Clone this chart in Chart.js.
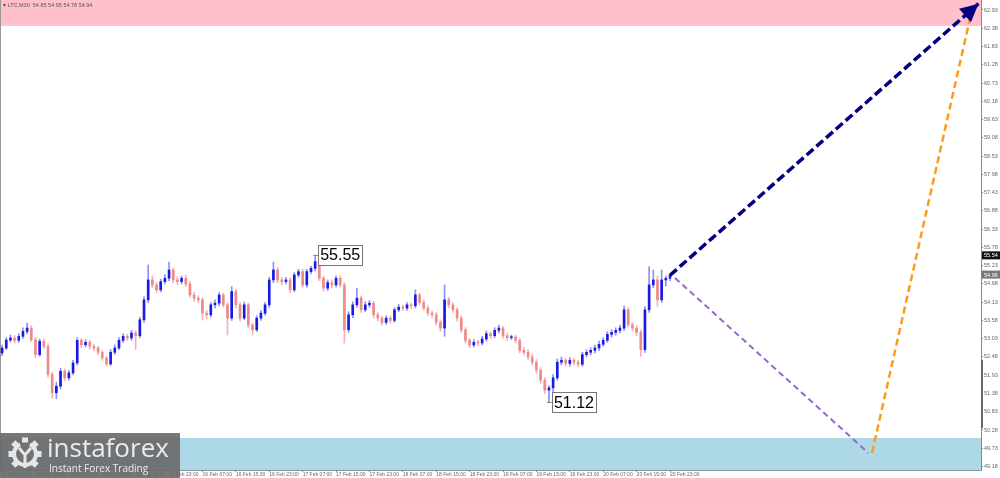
<!DOCTYPE html>
<html>
<head>
<meta charset="utf-8">
<script src="https://cdn.jsdelivr.net/npm/chart.js@4.4.1/dist/chart.umd.min.js"></script>
<style>
  html, body { margin: 0; padding: 0; background: #fff; }
  canvas { display: block; }
</style>
</head>
<body>
<canvas id="chart" width="1000" height="478"></canvas>
<script>
// hourly bars, index 0 = 14 Feb 07:00
const opens = [
  52.60, 52.75, 52.99, 53.05, 52.98, 53.10, 53.25, 53.35, 53.00, 52.55,
  52.95, 52.80, 51.95, 51.40, 51.60, 52.05, 51.85, 52.00, 52.30, 52.98,
  52.85, 52.92, 52.80, 52.75, 52.62, 52.45, 52.27, 52.62, 52.75, 52.98,
  53.10, 53.05, 53.20, 53.12, 53.60, 54.20, 54.80, 54.65, 54.50, 54.75,
  54.85, 55.10, 54.80, 54.75, 54.85, 54.68, 54.35, 54.25, 54.20, 53.80,
  53.75, 54.05, 54.10, 54.35, 54.05, 53.65, 54.45, 54.05, 53.65, 54.05,
  53.44, 53.30, 53.65, 53.80, 54.05, 54.80, 55.10, 54.80, 54.75, 54.80,
  54.50, 54.95, 55.05, 54.65, 55.05, 55.15, 55.35, 54.85, 54.55, 54.72,
  54.65, 54.85, 54.65, 53.30, 53.75, 54.05, 54.25, 53.90, 54.05, 54.10,
  53.75, 53.65, 53.52, 53.65, 53.58, 53.90, 53.98, 53.95, 54.05, 54.02,
  54.35, 54.12, 53.95, 53.80, 53.75, 53.52, 53.35, 54.20, 54.05, 53.90,
  53.65, 53.30, 52.98, 52.84, 52.92, 52.90, 53.02, 53.18, 53.12, 53.28,
  53.35, 53.12, 53.06, 53.08, 52.98, 52.68, 52.62, 52.48, 52.32, 52.08,
  51.78, 51.48, 51.55, 51.85, 52.32, 52.38, 52.28, 52.38, 52.32, 52.26,
  52.55, 52.62, 52.68, 52.75, 52.86, 52.98, 53.16, 53.22, 53.28, 53.35,
  53.90, 53.45, 53.35, 53.22, 52.70, 53.90, 54.65, 54.80, 54.20, 54.80,
  54.85
];
const highs = [
  52.84, 53.06, 53.14, 53.12, 53.18, 53.36, 53.50, 53.42, 53.08, 53.02,
  53.02, 52.88, 52.02, 51.72, 52.14, 52.12, 52.08, 52.38, 53.06, 53.04,
  53.00, 52.98, 52.86, 52.80, 52.68, 52.50, 52.70, 52.84, 53.06, 53.18,
  53.16, 53.28, 53.26, 53.68, 54.30, 55.25, 54.92, 54.72, 54.82, 54.95,
  55.34, 55.16, 54.90, 54.92, 54.94, 54.74, 54.42, 54.32, 54.26, 53.88,
  54.12, 54.20, 54.42, 54.40, 54.12, 54.60, 54.52, 54.12, 54.14, 54.10,
  53.50, 53.72, 53.88, 54.12, 54.88, 55.34, 55.18, 54.88, 54.88, 54.86,
  55.02, 55.12, 55.12, 55.12, 55.22, 55.55, 55.42, 54.92, 54.80, 54.80,
  54.92, 54.92, 54.72, 53.84, 54.14, 54.55, 54.32, 54.14, 54.18, 54.16,
  53.82, 53.70, 53.72, 53.70, 53.96, 54.06, 54.04, 54.12, 54.10, 54.50,
  54.40, 54.20, 54.02, 53.86, 53.82, 53.60, 54.65, 54.28, 54.12, 53.96,
  53.72, 53.36, 53.04, 53.00, 52.98, 53.10, 53.26, 53.24, 53.36, 53.44,
  53.40, 53.20, 53.14, 53.14, 53.04, 52.76, 52.70, 52.56, 52.40, 52.16,
  51.86, 51.62, 51.96, 52.42, 52.48, 52.44, 52.46, 52.44, 52.38, 52.62,
  52.70, 52.76, 52.84, 52.96, 53.06, 53.24, 53.30, 53.36, 53.44, 54.02,
  53.96, 53.52, 53.42, 53.30, 54.00, 55.20, 55.10, 54.92, 55.10, 54.92,
  54.95
];
const lows = [
  52.52, 52.70, 52.93, 52.90, 52.92, 53.04, 53.18, 52.94, 52.46, 52.50,
  52.72, 51.88, 51.25, 51.22, 51.52, 51.76, 51.78, 51.94, 52.24, 52.76,
  52.78, 52.72, 52.66, 52.55, 52.38, 52.20, 52.22, 52.56, 52.70, 52.92,
  52.98, 52.98, 52.70, 53.05, 53.52, 54.12, 54.56, 54.42, 54.44, 54.68,
  54.78, 54.72, 54.66, 54.68, 54.60, 54.28, 54.16, 54.12, 53.59, 53.62,
  53.68, 53.96, 54.02, 53.98, 53.14, 53.58, 53.96, 53.56, 53.60, 53.36,
  53.14, 53.24, 53.58, 53.74, 53.98, 54.72, 54.72, 54.66, 54.68, 54.42,
  54.44, 54.88, 54.58, 54.58, 54.98, 55.08, 54.78, 54.46, 54.48, 54.56,
  54.58, 54.58, 52.90, 53.22, 53.66, 53.98, 53.82, 53.84, 53.98, 53.66,
  53.56, 53.44, 53.46, 53.50, 53.52, 53.84, 53.88, 53.88, 53.94, 53.96,
  54.05, 53.88, 53.72, 53.66, 53.44, 53.26, 53.10, 53.96, 53.82, 53.56,
  53.22, 52.90, 52.76, 52.78, 52.82, 52.84, 52.96, 53.04, 53.06, 53.20,
  53.04, 52.98, 53.00, 52.90, 52.60, 52.54, 52.40, 52.24, 51.98, 51.68,
  51.38, 51.12, 51.40, 51.78, 52.24, 52.20, 52.20, 52.24, 52.18, 52.20,
  52.48, 52.54, 52.60, 52.68, 52.80, 52.92, 53.08, 53.14, 53.20, 53.28,
  53.38, 53.26, 53.12, 52.50, 52.62, 53.82, 54.56, 54.00, 54.12, 54.62,
  54.78
];
const closes = [
  52.75, 52.99, 53.05, 52.98, 53.10, 53.25, 53.35, 53.00, 52.55, 52.95,
  52.80, 51.95, 51.40, 51.60, 52.05, 51.85, 52.00, 52.30, 52.98, 52.85,
  52.92, 52.80, 52.75, 52.62, 52.45, 52.27, 52.62, 52.75, 52.98, 53.10,
  53.05, 53.20, 53.12, 53.60, 54.20, 54.80, 54.65, 54.50, 54.75, 54.85,
  55.10, 54.80, 54.75, 54.85, 54.68, 54.35, 54.25, 54.20, 53.80, 53.75,
  54.05, 54.10, 54.35, 54.05, 53.65, 54.45, 54.05, 53.65, 54.05, 53.44,
  53.30, 53.65, 53.80, 54.05, 54.80, 55.10, 54.80, 54.75, 54.80, 54.50,
  54.95, 55.05, 54.65, 55.05, 55.15, 55.35, 54.85, 54.55, 54.72, 54.65,
  54.85, 54.65, 53.30, 53.75, 54.05, 54.25, 53.90, 54.05, 54.10, 53.75,
  53.65, 53.52, 53.65, 53.58, 53.90, 53.98, 53.95, 54.05, 54.02, 54.35,
  54.12, 53.95, 53.80, 53.75, 53.52, 53.35, 54.20, 54.05, 53.90, 53.65,
  53.30, 52.98, 52.84, 52.92, 52.90, 53.02, 53.18, 53.12, 53.28, 53.35,
  53.12, 53.06, 53.08, 52.98, 52.68, 52.62, 52.48, 52.32, 52.08, 51.78,
  51.48, 51.55, 51.85, 52.32, 52.38, 52.28, 52.38, 52.32, 52.26, 52.55,
  52.62, 52.68, 52.75, 52.86, 52.98, 53.16, 53.22, 53.28, 53.35, 53.90,
  53.45, 53.35, 53.22, 52.70, 53.90, 54.65, 54.80, 54.20, 54.80, 54.85,
  54.94
];

// time axis labels (bar index -> text)
const tickPos = [0, 8, 16, 24, 32, 40, 48, 56, 64, 72, 80, 88, 96, 104, 112, 120, 128, 136, 144, 152, 160];
const tickLabels = [
  '14 Feb 2024', '14 Feb 15:00', '14 Feb 23:00', '15 Feb 07:00', '15 Feb 15:00', '15 Feb 23:00',
  '16 Feb 07:00', '16 Feb 15:00', '16 Feb 23:00', '17 Feb 07:00', '17 Feb 15:00', '17 Feb 23:00',
  '18 Feb 07:00', '18 Feb 15:00', '18 Feb 23:00', '19 Feb 07:00', '19 Feb 15:00', '19 Feb 23:00',
  '20 Feb 07:00', '20 Feb 15:00', '20 Feb 23:00'
];
const priceTicks = [62.93, 62.38, 61.83, 61.28, 60.73, 60.18, 59.63, 59.08, 58.53, 57.98, 57.43, 56.88, 56.33,
  55.78, 55.23, 54.68, 54.13, 53.58, 53.03, 52.48, 51.93, 51.38, 50.83, 50.28, 49.73, 49.18];

// zones and forecast paths
const resistZone = [62.45, 63.23];
const supportZone = [49.07, 50.04];
const forecastMain = [{x: 160, y: 54.94}, {x: 233.9, y: 63.12}];
const forecastDown = [{x: 161.2, y: 54.86}, {x: 207.5, y: 49.59}];
const forecastUp = [{x: 208.4, y: 49.59}, {x: 232.1, y: 62.81}];

// swing extremes and price tags
const swingHigh = {index: 75, value: 55.55};
const swingLow = {index: 131, value: 51.12};
const askTag = 55.54;
const bidTag = 54.96;
const axisMark = [50.34, 52.39];

const FONT = '"Liberation Sans", Arial, sans-serif';
const bull = closes.map((c, i) => c >= opens[i]);

const wickData = highs.map((h, i) => ({x: i, y: [lows[i], h]}));
const bodyData = closes.map((c, i) => ({x: i, y: [opens[i], c]}));

const zonesPlugin = {
  id: 'zones',
  beforeDatasetsDraw(chart) {
    const {ctx, chartArea: a, scales: {y}} = chart;
    ctx.save();
    let t = y.getPixelForValue(resistZone[1]), b = y.getPixelForValue(resistZone[0]);
    ctx.fillStyle = '#ffc0cb';
    ctx.fillRect(a.left, t, a.right - a.left, b - t);
    t = y.getPixelForValue(supportZone[1]); b = y.getPixelForValue(supportZone[0]);
    ctx.fillStyle = '#add8e6';
    ctx.fillRect(a.left, t, a.right - a.left, b - t);
    ctx.strokeStyle = '#999';
    ctx.lineWidth = 1;
    ctx.beginPath();
    ctx.moveTo(a.left + 0.5, a.top);
    ctx.lineTo(a.left + 0.5, a.bottom);
    ctx.stroke();
    ctx.restore();
  }
};

function boxLabel(ctx, x, y, text) {
  ctx.font = '16px ' + FONT;
  const w = ctx.measureText(text).width + 4, h = 20;
  ctx.fillStyle = '#fff';
  ctx.fillRect(x, y - h / 2, w, h);
  ctx.strokeStyle = '#777';
  ctx.lineWidth = 1;
  ctx.strokeRect(Math.round(x) + 0.5, Math.round(y - h / 2) + 0.5, Math.round(w), h);
  ctx.fillStyle = '#000';
  ctx.textBaseline = 'middle';
  ctx.textAlign = 'left';
  ctx.fillText(text, x + 2, y + 1);
}

const marksPlugin = {
  id: 'marks',
  afterDatasetsDraw(chart) {
    const {ctx, scales: {x, y}} = chart;
    ctx.save();
    // arrow head on the main forecast
    const p0 = forecastMain[0], p1 = forecastMain[1];
    const x0 = x.getPixelForValue(p0.x), y0 = y.getPixelForValue(p0.y);
    const x1 = x.getPixelForValue(p1.x), y1 = y.getPixelForValue(p1.y);
    const ang = Math.atan2(y1 - y0, x1 - x0);
    const len = 18, half = 9;
    ctx.fillStyle = '#000080';
    ctx.beginPath();
    ctx.moveTo(x1, y1);
    ctx.lineTo(x1 - len * Math.cos(ang) + half * Math.sin(ang), y1 - len * Math.sin(ang) - half * Math.cos(ang));
    ctx.lineTo(x1 - len * Math.cos(ang) - half * Math.sin(ang), y1 - len * Math.sin(ang) + half * Math.cos(ang));
    ctx.closePath();
    ctx.fill();

    // swing labels
    [swingHigh, swingLow].forEach(s => {
      const px = x.getPixelForValue(s.index), py = y.getPixelForValue(s.value);
      ctx.strokeStyle = '#888';
      ctx.lineWidth = 1;
      ctx.beginPath();
      ctx.moveTo(px - 2, Math.round(py) + 0.5);
      ctx.lineTo(px + 3, Math.round(py) + 0.5);
      ctx.stroke();
      boxLabel(ctx, px + 3, py, s.value.toFixed(2));
    });
    ctx.restore();
  },
  afterDraw(chart) {
    const {ctx, chartArea: a, scales: {y}} = chart;
    ctx.save();
    // price tags on the axis
    ctx.font = '5.5px ' + FONT;
    ctx.textBaseline = 'middle';
    ctx.textAlign = 'left';
    [[askTag, '#111'], [bidTag, '#777']].forEach(([v, c]) => {
      const py = y.getPixelForValue(v);
      ctx.fillStyle = c;
      ctx.fillRect(a.right + 1, py - 4, 18, 8);
      ctx.fillStyle = '#fff';
      ctx.fillText(v.toFixed(2), a.right + 3, py + 0.5);
    });
    // marker on the axis
    ctx.fillStyle = '#666';
    const m1 = y.getPixelForValue(axisMark[1]), m0 = y.getPixelForValue(axisMark[0]);
    ctx.fillRect(a.right, m1, 2, m0 - m1);

    // header
    ctx.fillStyle = '#555';
    ctx.font = '5.5px ' + FONT;
    ctx.fillText('\u25BE LTC,M30  54.85 54.95 54.78 54.94', 3, 5);

    // logo
    ctx.fillStyle = 'rgba(104,104,104,0.9)';
    ctx.fillRect(0, 433, 180, 45);
    ctx.strokeStyle = '#e6e6e6';
    ctx.fillStyle = '#e6e6e6';
    ctx.lineWidth = 4;
    ctx.beginPath();
    ctx.arc(25, 454, 11, -Math.PI * 0.35, Math.PI * 1.35);
    ctx.stroke();
    for (let k = 0; k < 8; k++) {
      const t = -Math.PI / 2 + k * Math.PI / 4;
      if (k === 4) continue;
      ctx.save();
      ctx.translate(25 + 14 * Math.cos(t), 454 + 14 * Math.sin(t));
      ctx.rotate(t);
      ctx.fillRect(-2.5, -3, 5, 6);
      ctx.restore();
    }
    ctx.lineWidth = 3;
    ctx.beginPath();
    ctx.moveTo(19, 448); ctx.lineTo(25, 455); ctx.lineTo(31, 448);
    ctx.moveTo(25, 455); ctx.lineTo(25, 468);
    ctx.stroke();
    ctx.fillStyle = '#ececec';
    ctx.textBaseline = 'alphabetic';
    ctx.font = '26px "Open Sans", sans-serif';
    ctx.fillText('instaforex', 47, 457);
    ctx.font = '10px "Open Sans", sans-serif';
    ctx.fillText('Instant Forex Trading', 49, 472);
    ctx.restore();
  }
};

const ctx = document.getElementById('chart').getContext('2d');
new Chart(ctx, {
  type: 'bar',
  data: {
    datasets: [
      {
        data: wickData,
        backgroundColor: bull.map(b => b ? '#8f8ff2' : '#f3b3b3'),
        barThickness: 1,
        grouped: false,
        order: 3
      },
      {
        data: bodyData,
        backgroundColor: bull.map(b => b ? '#1a1ae6' : '#ef8a8a'),
        barThickness: 2,
        minBarLength: 1,
        grouped: false,
        order: 2
      },
      {
        type: 'line',
        data: forecastDown,
        borderColor: '#9966cc',
        borderWidth: 2,
        borderDash: [6, 4],
        pointRadius: 0,
        order: 1
      },
      {
        type: 'line',
        data: forecastUp,
        borderColor: '#ff9a1a',
        borderWidth: 2.5,
        borderDash: [7, 4],
        pointRadius: 0,
        order: 1
      },
      {
        type: 'line',
        data: forecastMain,
        borderColor: '#000080',
        borderWidth: 3.5,
        borderDash: [9, 4],
        pointRadius: 0,
        order: 0
      }
    ]
  },
  options: {
    responsive: false,
    animation: false,
    devicePixelRatio: 1,
    layout: { padding: 0 },
    plugins: {
      legend: { display: false },
      tooltip: { enabled: false }
    },
    scales: {
      x: {
        type: 'linear',
        min: -0.5,
        max: 234.5,
        offset: false,
        afterBuildTicks: s => { s.ticks = tickPos.map(v => ({value: v})); },
        afterFit: s => { s.height = 8; s.paddingLeft = 0; s.paddingRight = 0; },
        grid: { drawOnChartArea: false, tickLength: 2, color: '#888', offset: false },
        border: { color: '#888' },
        ticks: {
          autoSkip: false,
          maxRotation: 0,
          align: 'start',
          padding: 0,
          color: '#666',
          font: { size: 5, family: FONT },
          callback: v => tickLabels[tickPos.indexOf(v)]
        }
      },
      y: {
        position: 'right',
        min: 49.075,
        max: 63.231,
        afterBuildTicks: s => { s.ticks = priceTicks.map(v => ({value: v})); },
        afterFit: s => { s.width = 19; s.paddingTop = 0; s.paddingBottom = 0; },
        grid: { drawOnChartArea: false, tickLength: 2, color: '#888' },
        border: { color: '#888' },
        ticks: {
          autoSkip: false,
          padding: 1,
          color: '#666',
          font: { size: 5.5, family: FONT },
          callback: v => v.toFixed(2)
        }
      }
    }
  },
  plugins: [zonesPlugin, marksPlugin]
});
</script>
</body>
</html>
